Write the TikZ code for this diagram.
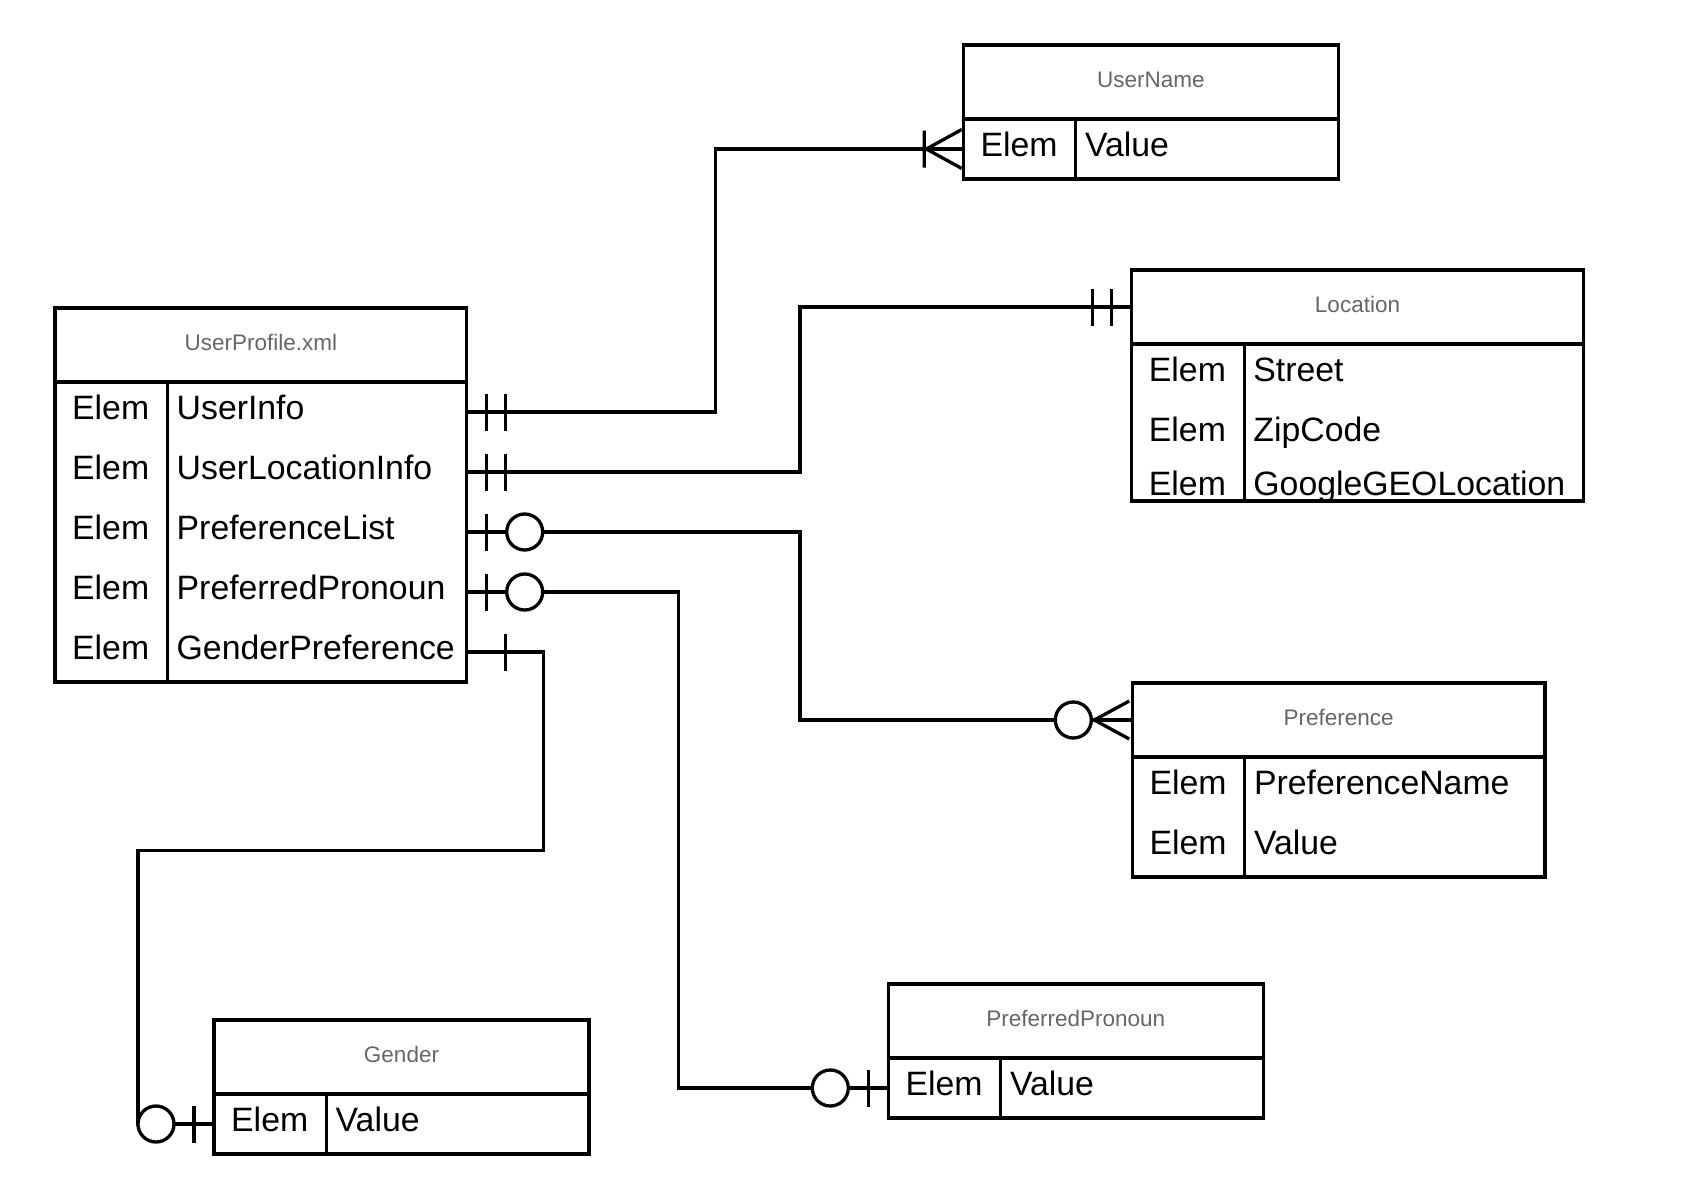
\documentclass[tikz,border=0pt]{standalone}
\usepackage{fontspec}
\setmainfont{Liberation Sans}
\usetikzlibrary{calc}

\definecolor{titlegray}{HTML}{666666}

\tikzset{
  thead/.style={draw, line width=3.3pt, anchor=north west, inner sep=0pt, outer sep=0pt,
    minimum height=74pt, text height=16pt, text depth=6pt,
    text=titlegray, font=\fontsize{22.5}{27}\selectfont},
  tbody/.style={draw, line width=3.3pt, anchor=north west, inner sep=0pt, outer sep=0pt},
  elem/.style={anchor=base west, inner sep=0pt, font=\fontsize{33.8}{40}\selectfont},
  link/.style={line width=3.3pt},
  one one/.pic={\draw[link] (20,-18.5) -- (20,18.5) (39,-18.5) -- (39,18.5);},
  one only/.pic={\draw[link] (39,-18.5) -- (39,18.5);},
  zero one/.pic={\draw[link] (20,-18.5) -- (20,18.5);
    \draw[link, fill=white] (58,0) circle[radius=18];},
  one many/.pic={\draw[link] (39,-18.5) -- (39,18.5) (1.5,-19.5) -- (37,0) -- (1.5,19.5);},
  zero many/.pic={\draw[link] (3,-19) -- (38,0) -- (3,19);
    \draw[link, fill=white] (59,0) circle[radius=18];},
}

\begin{document}
\begin{tikzpicture}[x=1pt, y=-1pt]
\useasboundingbox (0,0) rectangle (1702,1178);

% UserProfile.xml
\node[thead, minimum width=411.7pt] (up) at (55,308) {UserProfile.xml};
\node[tbody, minimum width=411.7pt, minimum height=300pt] (upb) at (up.south west) {};
\draw[link] ($(upb.north west)+(112.5,0)$) -- ($(upb.south west)+(112.5,0)$);
\foreach \t [count=\i] in {UserInfo, UserLocationInfo, PreferenceList, PreferredPronoun, GenderPreference} {
  \node[elem] at ($(upb.north west)+(17,60*\i-22.7)$) {Elem};
  \node[elem] at ($(upb.north west)+(121.5,60*\i-22.7)$) {\t};
  \coordinate (up-\i) at ($(upb.north east)+(0,60*\i-30)$);
}

% UserName
\node[thead, minimum width=375pt] (un) at (963.3,45) {UserName};
\node[tbody, minimum width=375pt, minimum height=60pt] (unb) at (un.south west) {};
\draw[link] ($(unb.north west)+(112.5,0)$) -- ($(unb.south west)+(112.5,0)$);
\node[elem] at ($(unb.north west)+(17,37.3)$) {Elem};
\node[elem] at ($(unb.north west)+(121.5,37.3)$) {Value};
\coordinate (un-1) at ($(unb.north west)+(0,30)$);

% Location
\node[thead, minimum width=451.6pt] (lo) at (1131.7,270) {Location};
\node[tbody, minimum width=451.6pt, minimum height=157pt] (lob) at (lo.south west) {};
\draw[link] ($(lob.north west)+(112.5,0)$) -- ($(lob.south west)+(112.5,0)$);
\foreach \t/\yb in {Street/37.5, ZipCode/97.5, GoogleGEOLocation/151.5} {
  \node[elem] at ($(lob.north west)+(17,\yb)$) {Elem};
  \node[elem] at ($(lob.north west)+(121.5,\yb)$) {\t};
}
\coordinate (lo-0) at (lo.west);

% Preference
\node[thead, minimum width=412.7pt] (pf) at (1132.3,683) {Preference};
\node[tbody, minimum width=412.7pt, minimum height=120pt] (pfb) at (pf.south west) {};
\draw[link] ($(pfb.north west)+(112.5,0)$) -- ($(pfb.south west)+(112.5,0)$);
\foreach \t [count=\i] in {PreferenceName, Value} {
  \node[elem] at ($(pfb.north west)+(17,60*\i-22.7)$) {Elem};
  \node[elem] at ($(pfb.north west)+(121.5,60*\i-22.7)$) {\t};
}
\coordinate (pf-0) at (pf.west);

% PreferredPronoun
\node[thead, minimum width=375pt] (pp) at (888.3,984) {PreferredPronoun};
\node[tbody, minimum width=375pt, minimum height=60pt] (ppb) at (pp.south west) {};
\draw[link] ($(ppb.north west)+(112.5,0)$) -- ($(ppb.south west)+(112.5,0)$);
\node[elem] at ($(ppb.north west)+(17,37.3)$) {Elem};
\node[elem] at ($(ppb.north west)+(121.5,37.3)$) {Value};
\coordinate (pp-1) at ($(ppb.north west)+(0,30)$);

% Gender
\node[thead, minimum width=375pt] (gd) at (214,1020) {Gender};
\node[tbody, minimum width=375pt, minimum height=60pt] (gdb) at (gd.south west) {};
\draw[link] ($(gdb.north west)+(112.5,0)$) -- ($(gdb.south west)+(112.5,0)$);
\node[elem] at ($(gdb.north west)+(17,37.3)$) {Elem};
\node[elem] at ($(gdb.north west)+(121.5,37.3)$) {Value};
\coordinate (gd-1) at ($(gdb.north west)+(0,30)$);

% relations
\draw[link] (up-1) -- ++(249,0) |- (un-1);
\draw[link] (up-2) -- ++(333.3,0) |- (lo-0);
\draw[link] (up-3) -- ++(333.3,0) |- (pf-0);
\draw[link] (up-4) -- ++(211.6,0) |- (pp-1);
\coordinate (gbend) at (138,850.7);
\draw[link] (up-5) -- ++(76.6,0) |- (gbend) |- (gd-1);

% cardinalities
\pic at (up-1) {one one};
\pic at (up-2) {one one};
\pic at (up-3) {zero one};
\pic at (up-4) {zero one};
\pic at (up-5) {one only};
\pic[rotate=180] at (un-1) {one many};
\pic[rotate=180] at (lo-0) {one one};
\pic[rotate=180] at (pf-0) {zero many};
\pic[rotate=180] at (pp-1) {zero one};
\pic[rotate=180] at (gd-1) {zero one};
\end{tikzpicture}
\end{document}
